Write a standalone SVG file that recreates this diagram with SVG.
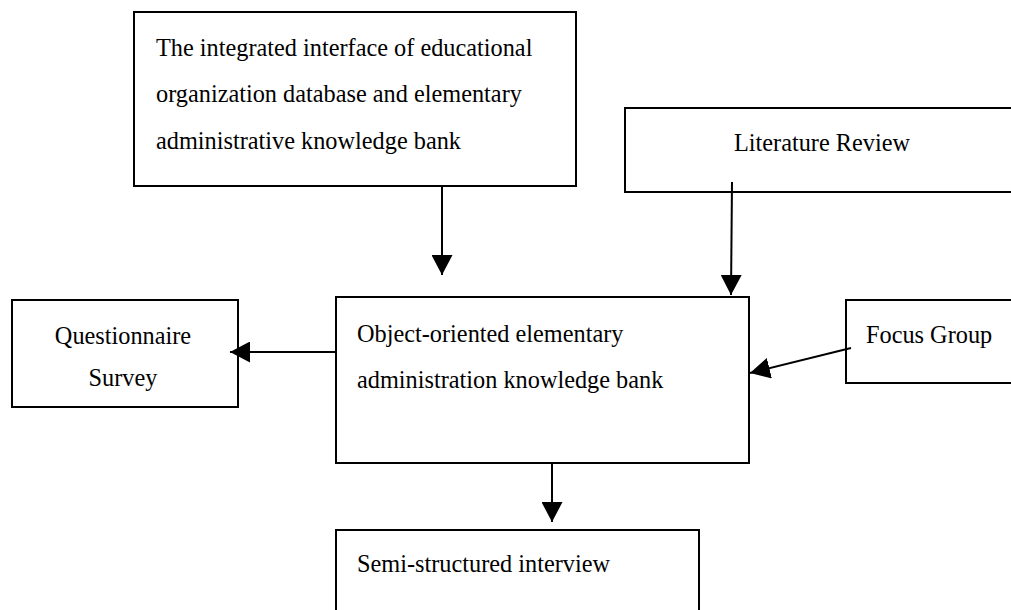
<svg xmlns="http://www.w3.org/2000/svg" width="1011" height="610" viewBox="0 0 1011 610">
<style>
.box{fill:#fff;stroke:#000;stroke-width:2}
.t{font-family:"Liberation Serif","Times New Roman",serif;font-size:24.3px;fill:#000}
.c{text-anchor:middle}
.ln{stroke:#000;stroke-width:2;fill:none}
</style>
<defs>
<marker id="ah" viewBox="0 0 20 20" refX="20" refY="10" markerWidth="20" markerHeight="21" markerUnits="userSpaceOnUse" orient="auto" preserveAspectRatio="none">
<path d="M0,0 L20,10 L0,20 Z" fill="#000"/>
</marker>
</defs>
<rect width="1011" height="610" fill="#fff"/>
<g id="top">
<rect class="box" x="134" y="12" width="442" height="174"/>
<text class="t" x="156" y="56">The integrated interface of educational</text>
<text class="t" x="156" y="102">organization database and elementary</text>
<text class="t" x="156" y="149">administrative knowledge bank</text>
</g>
<g id="lit">
<rect class="box" x="625" y="108" width="400" height="84"/>
<text class="t c" x="822" y="151">Literature Review</text>
</g>
<g id="center">
<rect class="box" x="336" y="297" width="413" height="166"/>
<text class="t" x="357" y="342">Object-oriented elementary</text>
<text class="t" x="357" y="388">administration knowledge bank</text>
</g>
<g id="quest">
<rect class="box" x="12" y="300" width="226" height="107"/>
<text class="t c" x="123" y="344">Questionnaire</text>
<text class="t c" x="123" y="386">Survey</text>
</g>
<g id="focus">
<rect class="box" x="846" y="300" width="180" height="83"/>
<text class="t" x="866" y="343">Focus Group</text>
</g>
<g id="semi">
<rect class="box" x="336" y="530" width="363" height="100"/>
<text class="t" x="357" y="572">Semi-structured interview</text>
</g>
<g id="connectors">
<line class="ln" x1="442" y1="186" x2="442" y2="275" marker-end="url(#ah)"/>
<line class="ln" x1="732" y1="182" x2="731" y2="295" marker-end="url(#ah)"/>
<line class="ln" x1="336" y1="352" x2="230" y2="352" marker-end="url(#ah)"/>
<line class="ln" x1="851" y1="348" x2="750" y2="373" marker-end="url(#ah)"/>
<line class="ln" x1="552" y1="463" x2="552" y2="522" marker-end="url(#ah)"/>
</g>
</svg>
